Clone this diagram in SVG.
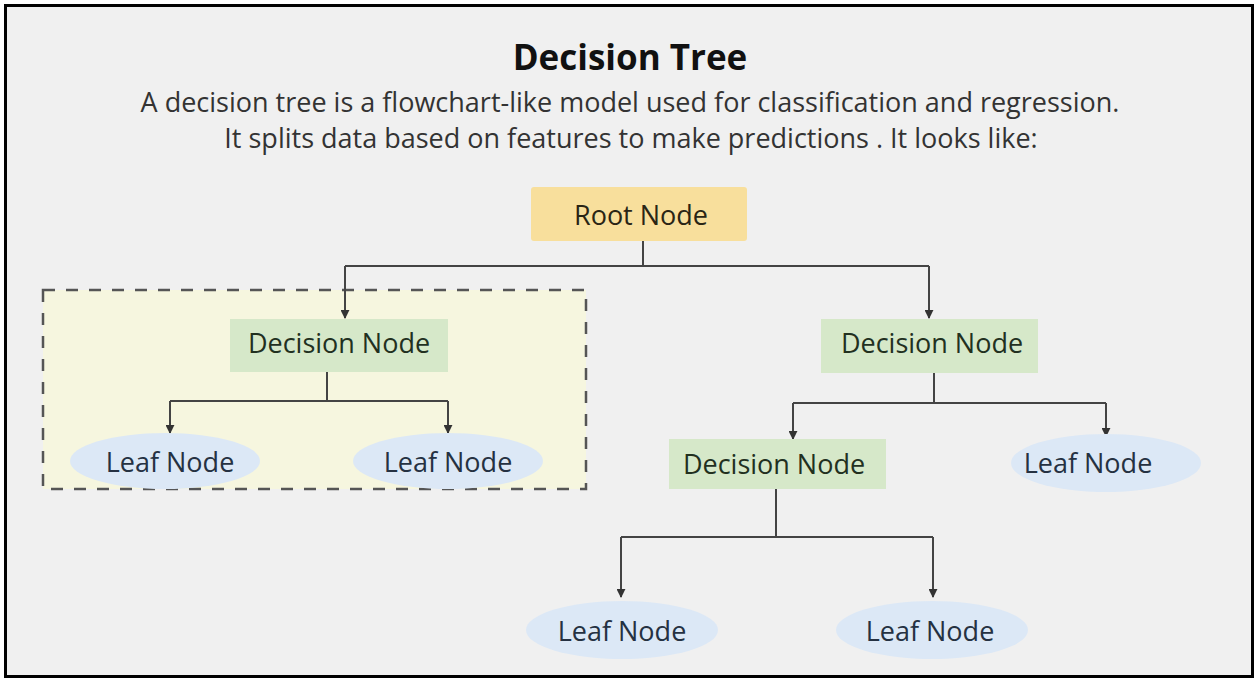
<svg xmlns="http://www.w3.org/2000/svg" width="1258" height="681" viewBox="0 0 1258 681">
<defs>
<marker id="arr" viewBox="0 0 10 10" refX="9" refY="5" markerWidth="4.5" markerHeight="4.5" orient="auto" markerUnits="strokeWidth">
<path d="M0,0 L10,5 L0,10 z" fill="#333"/>
</marker>
<style>
.t{font-family:"Open Sans","Noto Sans","Liberation Sans",sans-serif;}
.title{font-size:35px;font-weight:bold;fill:#111;text-anchor:middle;}
.sub{font-size:27px;fill:#333;text-anchor:middle;}
.lbl{font-size:27px;text-anchor:middle;dominant-baseline:central;}
.root{fill:#f8df9c;}
.dec{fill:#d6e8c9;}
.leaf{fill:#dce8f6;}
.dt{fill:#22301f;}
.lt{fill:#253142;}
.rt{fill:#2a2515;}
.c{fill:none;stroke:#444;stroke-width:2;}
.ca{fill:none;stroke:#444;stroke-width:2;marker-end:url(#arr);}
</style>
</defs>
<rect x="0" y="0" width="1258" height="681" fill="#ffffff"/>
<rect x="5.5" y="5.5" width="1247" height="671" fill="#f0f0f0" stroke="#000" stroke-width="3"/>
<text class="t title" x="630" y="70">Decision Tree</text>
<text class="t sub" x="630" y="112">A decision tree is a flowchart-like model used for classification and regression.</text>
<text class="t sub" x="631" y="148">It splits data based on features to make predictions . It looks like:</text>
<rect id="group-box" x="43" y="290" width="543" height="199" fill="#f6f6df" stroke="#555" stroke-width="2.5" stroke-dasharray="12,11"/>
<g id="connectors">
<path class="c" d="M643,241 V266 M345,266 H929"/>
<path class="ca" d="M345,266 V318"/>
<path class="ca" d="M929,266 V318"/>
<path class="c" d="M327,372 V401 M170,401 H448"/>
<path class="ca" d="M170,401 V433"/>
<path class="ca" d="M448,401 V433"/>
<path class="c" d="M934,373 V403 M793,403 H1106"/>
<path class="ca" d="M793,403 V439"/>
<path class="ca" d="M1106,403 V436"/>
<path class="c" d="M776,489 V537 M621,537 H933"/>
<path class="ca" d="M621,537 V597"/>
<path class="ca" d="M933,537 V597"/>
</g>
<g id="root"><rect class="root" x="531" y="187" width="216" height="54" rx="3"/><text class="t lbl rt" x="641" y="214">Root Node</text></g>
<g id="dec-left"><rect class="dec" x="230" y="319" width="218" height="53"/><text class="t lbl dt" x="339" y="342">Decision Node</text></g>
<g id="dec-right"><rect class="dec" x="821" y="319" width="217" height="54"/><text class="t lbl dt" x="932" y="342">Decision Node</text></g>
<g id="dec-bottom"><rect class="dec" x="669" y="439" width="217" height="50"/><text class="t lbl dt" x="774" y="463">Decision Node</text></g>
<g id="leaf-1"><ellipse class="leaf" cx="165" cy="461" rx="95" ry="28"/><text class="t lbl lt" x="170" y="461">Leaf Node</text></g>
<g id="leaf-2"><ellipse class="leaf" cx="448" cy="461" rx="95" ry="28"/><text class="t lbl lt" x="448" y="461">Leaf Node</text></g>
<g id="leaf-3"><ellipse class="leaf" cx="1106" cy="463" rx="95" ry="29"/><text class="t lbl lt" x="1088" y="462">Leaf Node</text></g>
<g id="leaf-4"><ellipse class="leaf" cx="622" cy="630" rx="96" ry="29"/><text class="t lbl lt" x="622" y="630">Leaf Node</text></g>
<g id="leaf-5"><ellipse class="leaf" cx="932" cy="630" rx="96" ry="29"/><text class="t lbl lt" x="930" y="630">Leaf Node</text></g>
</svg>
